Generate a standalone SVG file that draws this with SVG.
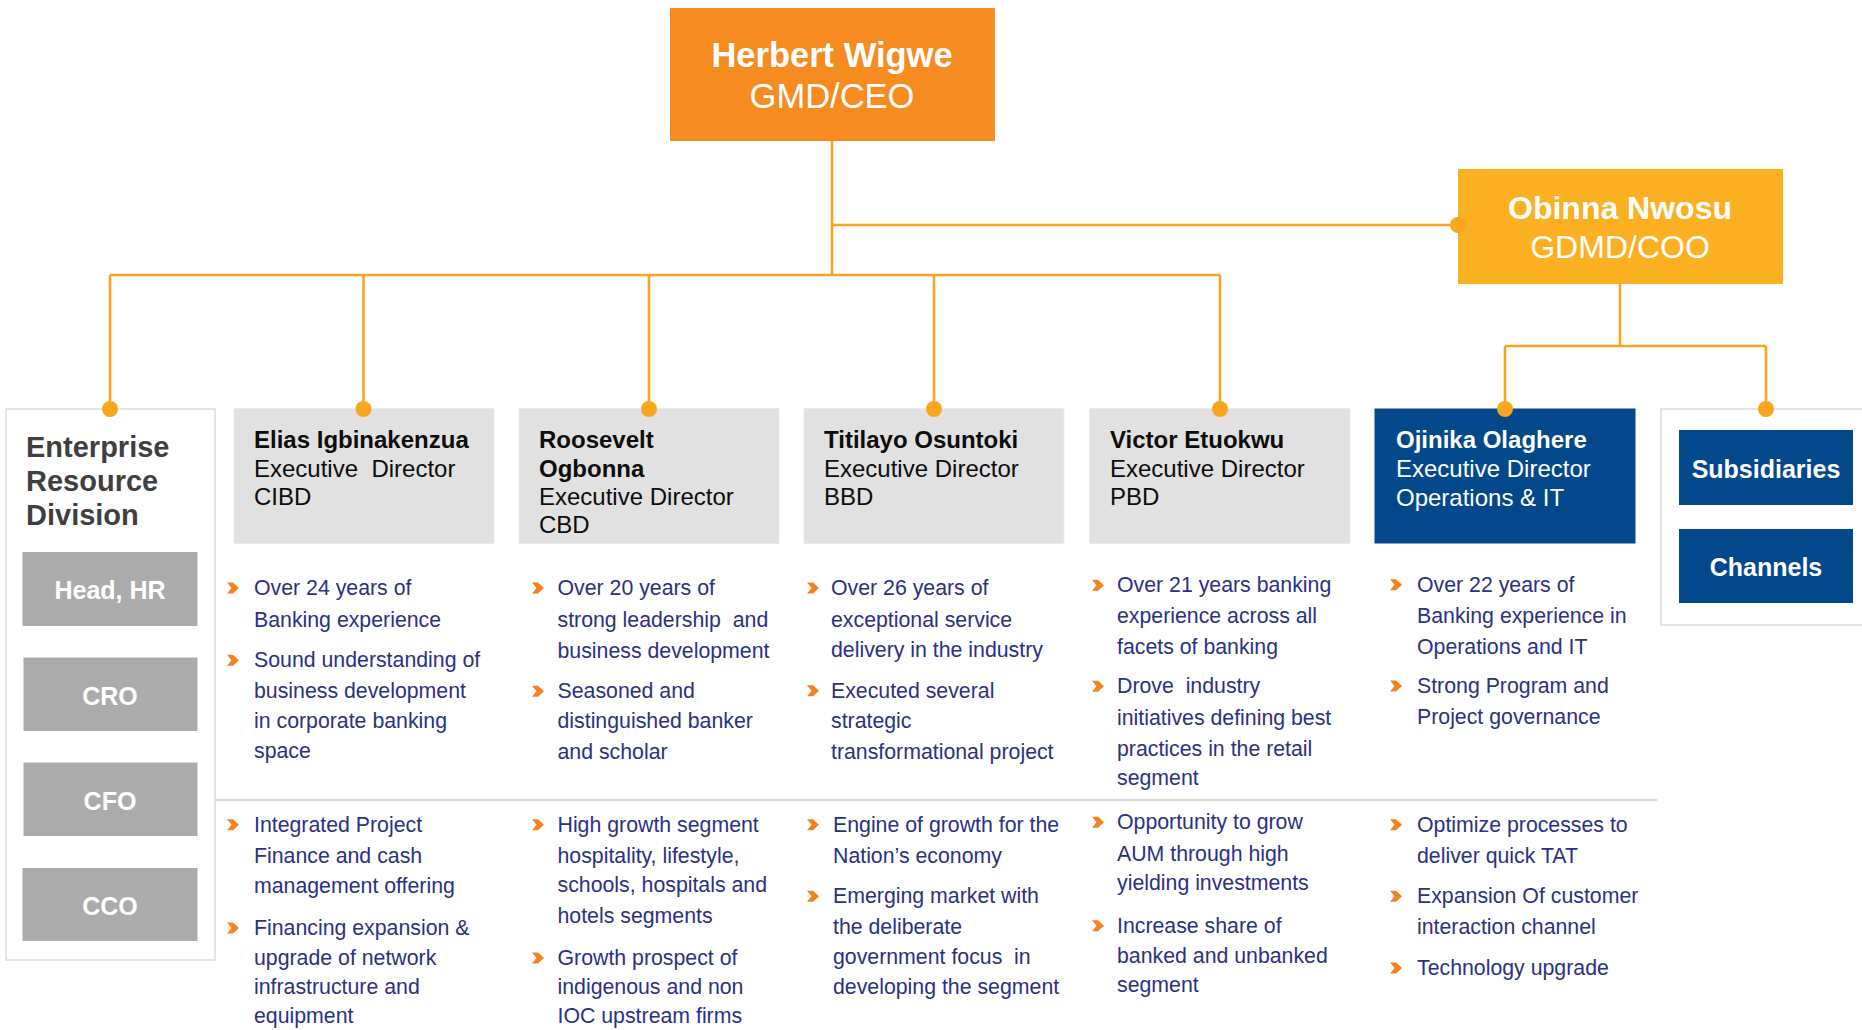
<svg xmlns="http://www.w3.org/2000/svg" xmlns:xlink="http://www.w3.org/1999/xlink" width="1862" height="1030" viewBox="0 0 1862 1030">
<style>
text{font-family:"Liberation Sans",Arial,sans-serif}
.ln{fill:none;stroke:#F9A51E;stroke-width:2.6}
.dot{fill:#F9A51E}
.gbox{fill:#E1E1E1;stroke:#EBEBEB;stroke-width:1}
.nm{font-size:24px;font-weight:bold;fill:#0D0D0D}
.rl{font-size:24px;fill:#0D0D0D;white-space:pre}
.bl{font-size:21.3px;fill:#2B3183;white-space:pre}
.wb{font-weight:bold;fill:#FFFFFF}
.erdb{fill:#ABABAB}
.blue{fill:#04488C}
.frame{fill:#FFFFFF;stroke:#DCDCDC;stroke-width:1.5}
</style>
<defs>
<polygon id="chev" points="0,-5.5 6,-5.5 12,0 6,5.5 0,5.5 4.5,0" fill="#F58220"/>
</defs>
<rect x="0" y="0" width="1862" height="1030" fill="#FFFFFF"/>

<g id="connectors">
<path class="ln" d="M832,141 V275 M110,275 H1220 M110,275 V409 M363.5,275 V409 M649,275 V409 M934,275 V409 M1220,275 V409 M832,225 H1458"/>
<path class="ln" d="M1620,284 V346 M1505,346 H1766 M1505,346 V409 M1766,346 V409"/>
<line x1="215" y1="800" x2="1657" y2="800" stroke="#C8C8C8" stroke-width="1.6"/>
</g>

<g id="ceo">
<rect x="670" y="8" width="325" height="133" fill="#F68B1F"/>
<text x="832" y="67" text-anchor="middle" font-size="34.5" class="wb">Herbert Wigwe</text>
<text x="832" y="108" text-anchor="middle" font-size="34.5" fill="#FFFFFF">GMD/CEO</text>
</g>

<g id="coo">
<rect x="1458" y="169" width="325" height="115" fill="#FBB021"/>
<text x="1620" y="219" text-anchor="middle" font-size="32" class="wb">Obinna Nwosu</text>
<text x="1620" y="258" text-anchor="middle" font-size="32" fill="#FFFFFF">GDMD/COO</text>
</g>

<g id="erd">
<rect class="frame" x="6" y="409" width="209" height="551"/>
<text x="26" y="456.6" font-size="29" font-weight="bold" fill="#3F3F3F">Enterprise</text>
<text x="26" y="490.6" font-size="29" font-weight="bold" fill="#3F3F3F">Resource</text>
<text x="26" y="525" font-size="29" font-weight="bold" fill="#3F3F3F">Division</text>
<g id="head-hr"><rect class="erdb" x="22.5" y="552" width="175" height="74"/><text x="110" y="599" text-anchor="middle" font-size="25" class="wb">Head, HR</text></g>
<g id="cro"><rect class="erdb" x="23.5" y="657.5" width="174" height="73.5"/><text x="110" y="704.5" text-anchor="middle" font-size="25" class="wb">CRO</text></g>
<g id="cfo"><rect class="erdb" x="23.5" y="762.5" width="174" height="73.5"/><text x="110" y="810" text-anchor="middle" font-size="25" class="wb">CFO</text></g>
<g id="cco"><rect class="erdb" x="22.5" y="868" width="175" height="73"/><text x="110" y="914.6" text-anchor="middle" font-size="25" class="wb">CCO</text></g>
</g>

<g id="elias">
<rect class="gbox" x="234" y="408.5" width="260" height="135"/>
<text x="254" y="447.7" class="nm">Elias Igbinakenzua</text>
<text x="254" y="476.7" class="rl">Executive  Director</text>
<text x="254" y="505" class="rl">CIBD</text>
</g>

<g id="roosevelt">
<rect class="gbox" x="519" y="408.5" width="260" height="135"/>
<text x="539" y="447.7" class="nm">Roosevelt</text>
<text x="539" y="476.7" class="nm">Ogbonna</text>
<text x="539" y="505" class="rl">Executive Director</text>
<text x="539" y="533.3" class="rl">CBD</text>
</g>

<g id="titilayo">
<rect class="gbox" x="804" y="408.5" width="260" height="135"/>
<text x="824" y="447.7" class="nm">Titilayo Osuntoki</text>
<text x="824" y="476.7" class="rl">Executive Director</text>
<text x="824" y="505" class="rl">BBD</text>
</g>

<g id="victor">
<rect class="gbox" x="1089.5" y="408.5" width="260.5" height="135"/>
<text x="1110" y="447.7" class="nm">Victor Etuokwu</text>
<text x="1110" y="476.7" class="rl">Executive Director</text>
<text x="1110" y="505" class="rl">PBD</text>
</g>

<g id="ojinika">
<rect class="blue" x="1374.5" y="408.5" width="261" height="135"/>
<text x="1396" y="448" font-size="24" class="wb">Ojinika Olaghere</text>
<text x="1396" y="476.7" font-size="24" fill="#FFFFFF">Executive Director</text>
<text x="1396" y="505.7" font-size="24" fill="#FFFFFF">Operations &amp; IT</text>
</g>

<g id="subsidiaries-channels">
<rect class="frame" x="1661" y="409" width="220" height="216"/>
<g id="subsidiaries"><rect class="blue" x="1679" y="430" width="174" height="75"/><text x="1766" y="477.7" text-anchor="middle" font-size="25" class="wb">Subsidiaries</text></g>
<g id="channels"><rect class="blue" x="1679" y="529" width="174" height="74"/><text x="1766" y="576" text-anchor="middle" font-size="25" class="wb">Channels</text></g>
</g>

<g id="dots">
<circle class="dot" cx="110" cy="409" r="8"/>
<circle class="dot" cx="363.5" cy="409" r="8"/>
<circle class="dot" cx="649" cy="409" r="8"/>
<circle class="dot" cx="934" cy="409" r="8"/>
<circle class="dot" cx="1220" cy="409" r="8"/>
<circle class="dot" cx="1505" cy="409" r="8"/>
<circle class="dot" cx="1766" cy="409" r="8"/>
<circle class="dot" cx="1458" cy="225" r="8"/>
</g>

<g id="bullets-experience">
<use xlink:href="#chev" href="#chev" x="227" y="588"/>
<text x="254" y="595" class="bl">Over 24 years of</text>
<text x="254" y="626.7" class="bl">Banking experience</text>
<use xlink:href="#chev" href="#chev" x="227" y="660.3"/>
<text x="254" y="667.3" class="bl">Sound understanding of</text>
<text x="254" y="697.7" class="bl">business development</text>
<text x="254" y="728.3" class="bl">in corporate banking</text>
<text x="254" y="758.3" class="bl">space</text>

<use xlink:href="#chev" href="#chev" x="532" y="588"/>
<text x="557.5" y="595" class="bl">Over 20 years of</text>
<text x="557.5" y="626.7" class="bl">strong leadership  and</text>
<text x="557.5" y="658.3" class="bl">business development</text>
<use xlink:href="#chev" href="#chev" x="532" y="691.3"/>
<text x="557.5" y="698.3" class="bl">Seasoned and</text>
<text x="557.5" y="728.3" class="bl">distinguished banker</text>
<text x="557.5" y="759" class="bl">and scholar</text>

<use xlink:href="#chev" href="#chev" x="807" y="588"/>
<text x="831" y="595" class="bl">Over 26 years of</text>
<text x="831" y="626.7" class="bl">exceptional service</text>
<text x="831" y="656.7" class="bl">delivery in the industry</text>
<use xlink:href="#chev" href="#chev" x="807" y="690.7"/>
<text x="831" y="697.7" class="bl">Executed several</text>
<text x="831" y="728.3" class="bl">strategic</text>
<text x="831" y="759.3" class="bl">transformational project</text>

<use xlink:href="#chev" href="#chev" x="1092" y="585.3"/>
<text x="1117" y="592.3" class="bl">Over 21 years banking</text>
<text x="1117" y="623.3" class="bl">experience across all</text>
<text x="1117" y="654" class="bl">facets of banking</text>
<use xlink:href="#chev" href="#chev" x="1092" y="686.3"/>
<text x="1117" y="693.3" class="bl">Drove  industry</text>
<text x="1117" y="725" class="bl">initiatives defining best</text>
<text x="1117" y="756" class="bl">practices in the retail</text>
<text x="1117" y="785" class="bl">segment</text>

<use xlink:href="#chev" href="#chev" x="1390" y="584.7"/>
<text x="1417" y="591.7" class="bl">Over 22 years of</text>
<text x="1417" y="622.7" class="bl">Banking experience in</text>
<text x="1417" y="653.7" class="bl">Operations and IT</text>
<use xlink:href="#chev" href="#chev" x="1390" y="686"/>
<text x="1417" y="693" class="bl">Strong Program and</text>
<text x="1417" y="724" class="bl">Project governance</text>
</g>

<g id="bullets-opportunity">
<use xlink:href="#chev" href="#chev" x="227" y="824.7"/>
<text x="254" y="831.7" class="bl">Integrated Project</text>
<text x="254" y="862.7" class="bl">Finance and cash</text>
<text x="254" y="892.7" class="bl">management offering</text>
<use xlink:href="#chev" href="#chev" x="227" y="928"/>
<text x="254" y="935" class="bl">Financing expansion &amp;</text>
<text x="254" y="965" class="bl">upgrade of network</text>
<text x="254" y="994" class="bl">infrastructure and</text>
<text x="254" y="1023.3" class="bl">equipment</text>

<use xlink:href="#chev" href="#chev" x="532" y="824.7"/>
<text x="557.5" y="831.7" class="bl">High growth segment</text>
<text x="557.5" y="862.7" class="bl">hospitality, lifestyle,</text>
<text x="557.5" y="891.7" class="bl">schools, hospitals and</text>
<text x="557.5" y="922.7" class="bl">hotels segments</text>
<use xlink:href="#chev" href="#chev" x="532" y="958"/>
<text x="557.5" y="965" class="bl">Growth prospect of</text>
<text x="557.5" y="994" class="bl">indigenous and non</text>
<text x="557.5" y="1023.3" class="bl">IOC upstream firms</text>

<use xlink:href="#chev" href="#chev" x="807" y="824.7"/>
<text x="833" y="831.7" class="bl">Engine of growth for the</text>
<text x="833" y="862.7" class="bl">Nation’s economy</text>
<use xlink:href="#chev" href="#chev" x="807" y="896.3"/>
<text x="833" y="903.3" class="bl">Emerging market with</text>
<text x="833" y="934" class="bl">the deliberate</text>
<text x="833" y="964" class="bl">government focus  in</text>
<text x="833" y="994" class="bl">developing the segment</text>

<use xlink:href="#chev" href="#chev" x="1092" y="822.3"/>
<text x="1117" y="829.3" class="bl">Opportunity to grow</text>
<text x="1117" y="860.7" class="bl">AUM through high</text>
<text x="1117" y="890" class="bl">yielding investments</text>
<use xlink:href="#chev" href="#chev" x="1092" y="925.7"/>
<text x="1117" y="932.7" class="bl">Increase share of</text>
<text x="1117" y="962.7" class="bl">banked and unbanked</text>
<text x="1117" y="991.7" class="bl">segment</text>

<use xlink:href="#chev" href="#chev" x="1390" y="824.7"/>
<text x="1417" y="831.7" class="bl">Optimize processes to</text>
<text x="1417" y="862.7" class="bl">deliver quick TAT</text>
<use xlink:href="#chev" href="#chev" x="1390" y="896.3"/>
<text x="1417" y="903.3" class="bl">Expansion Of customer</text>
<text x="1417" y="934" class="bl">interaction channel</text>
<use xlink:href="#chev" href="#chev" x="1390" y="968"/>
<text x="1417" y="975" class="bl">Technology upgrade</text>
</g>
</svg>
